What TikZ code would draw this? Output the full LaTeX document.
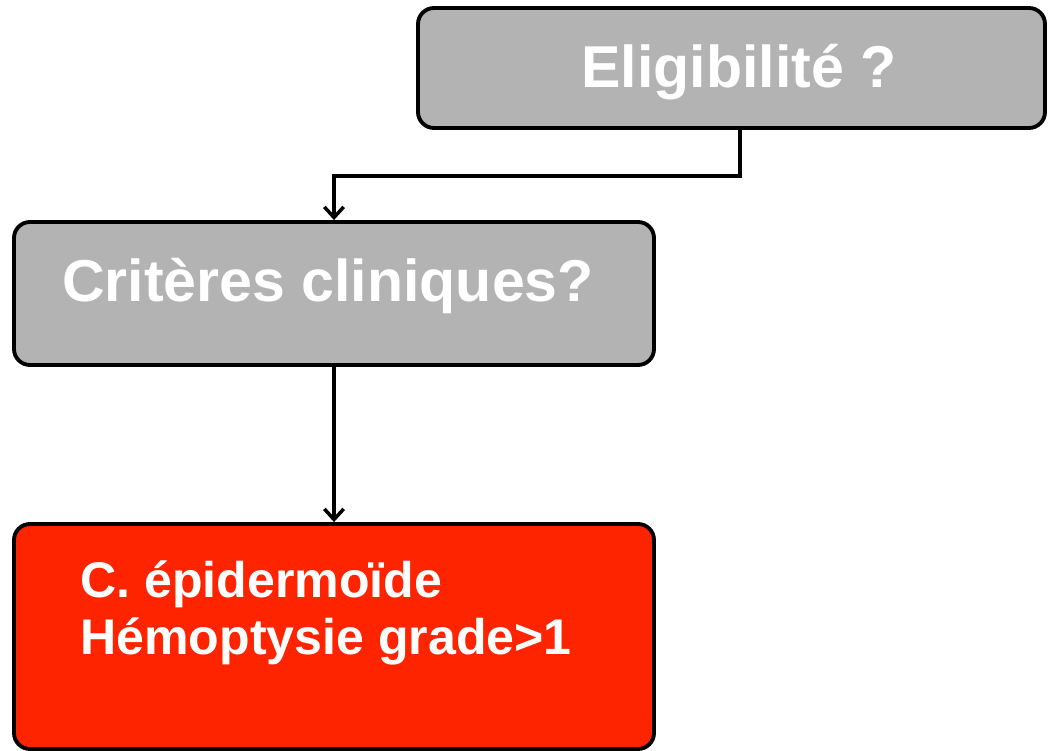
\documentclass[tikz,border=0pt]{standalone}
\usepackage{fontspec}
\setmainfont{Liberation Sans}
\usetikzlibrary{arrows.meta}
\definecolor{boxgray}{HTML}{B3B3B3}
\definecolor{alertred}{HTML}{FF2400}
\tikzset{
    stepbox/.style={draw=black, line width=2.2pt, rounded corners=0.32cm, inner sep=0pt},
    boxtext/.style={text=white, font=\fontsize{33.6}{40}\selectfont\bfseries, inner sep=0pt},
    conn/.style={line width=2.2pt, -{Straight Barb[length=6pt,width=11pt,line width=2pt]}},
}
\begin{document}
\begin{tikzpicture}
    \useasboundingbox (0,0) rectangle (21.02,-15.02);
    % boxes
    \node[stepbox, fill=boxgray, minimum width=12.54cm, minimum height=2.4cm] (elig) at (14.63,-1.36) {};
    \node[stepbox, fill=boxgray, minimum width=12.8cm, minimum height=2.86cm] (crit) at (6.68,-5.87) {};
    \node[stepbox, fill=alertred, minimum width=12.8cm, minimum height=4.5cm] (red) at (6.68,-12.73) {};
    % texts
    \node[boxtext, anchor=base] (eligtxt) at (14.78,-1.76) {Eligibilité ?};
    \node[boxtext, anchor=base] (crittxt) at (6.56,-6.04) {Critères cliniques?};
    \node[boxtext, font=\fontsize{28.5}{32.4}\selectfont\bfseries, align=left, anchor=north west] (redtxt) at (1.6,-11.2) {C. épidermoïde\\Hémoptysie grade>1};
    % connectors
    \coordinate (elbow) at (14.8,-3.52);
    \draw[conn] (elig.south -| elbow) -- (elbow) -| (crit.north);
    \draw[conn] (crit.south) -- (red.north);
\end{tikzpicture}
\end{document}
